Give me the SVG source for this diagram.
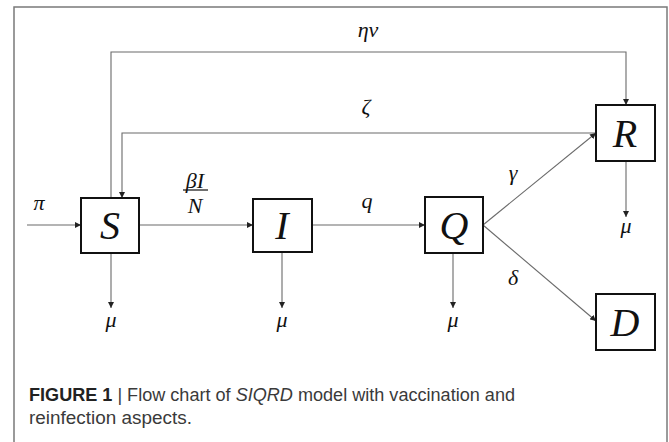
<svg xmlns="http://www.w3.org/2000/svg" width="669" height="442" viewBox="0 0 669 442">
<style>
.frame{fill:none;stroke:#7a7a7a;stroke-width:1.5}
.box{fill:#fff;stroke:#111;stroke-width:2}
.conn path{fill:none;stroke:#6a6a6a;stroke-width:1.1;marker-end:url(#ah)}
.big{font-family:"Liberation Serif",serif;font-style:italic;font-size:40px;fill:#111;text-anchor:middle}
.lbl{font-family:"Liberation Serif",serif;font-style:italic;font-size:22px;fill:#111;text-anchor:middle}
.cap{font-family:"Liberation Sans",Arial,sans-serif;font-size:17.5px;fill:#3a3a3a}
</style>
<defs>
<marker id="ah" viewBox="0 0 10 10" refX="10" refY="5" markerWidth="6" markerHeight="6" markerUnits="userSpaceOnUse" orient="auto">
<path d="M0,0 L10,5 L0,10 z" fill="#222"/>
</marker>
</defs>
<rect class="frame" x="14" y="7" width="653" height="445"/>
<g id="connectors" class="conn">
<path d="M111,198 V52 H626 V105"/>
<path d="M596,133 H122 V198"/>
<path d="M27,225 H81"/>
<path d="M139,225 H253"/>
<path d="M312,225 H425"/>
<path d="M483,225 L596,133"/>
<path d="M483,225 L596,321"/>
<path d="M111,253 V308"/>
<path d="M282,252 V308"/>
<path d="M453,253 V308"/>
<path d="M626,161 V217"/>
</g>
<g id="labels">
<text class="lbl" x="368" y="37">ην</text>
<text class="lbl" x="366" y="114">ζ</text>
<text class="lbl" x="39" y="210">π</text>
<text class="lbl" x="195" y="188">βI</text>
<line x1="183" y1="190" x2="208" y2="190" stroke="#111" stroke-width="1.2"/>
<text class="lbl" x="195" y="213">N</text>
<text class="lbl" x="367" y="208">q</text>
<text class="lbl" x="513" y="180">γ</text>
<text class="lbl" x="513" y="285">δ</text>
<text class="lbl" x="111" y="327">μ</text>
<text class="lbl" x="282" y="327">μ</text>
<text class="lbl" x="453" y="327">μ</text>
<text class="lbl" x="626" y="233">μ</text>
</g>
<g id="node-S"><rect class="box" x="81" y="198" width="58" height="55"/><text class="big" x="110" y="239">S</text></g>
<g id="node-I"><rect class="box" x="253" y="199" width="59" height="53"/><text class="big" x="282" y="239">I</text></g>
<g id="node-Q"><rect class="box" x="425" y="197" width="58" height="56"/><text class="big" x="454" y="239">Q</text></g>
<g id="node-R"><rect class="box" x="596" y="105" width="59" height="56"/><text class="big" x="625" y="147">R</text></g>
<g id="node-D"><rect class="box" x="596" y="294" width="59" height="56"/><text class="big" x="625" y="336">D</text></g>
<g id="caption">
<text class="cap" x="29" y="401" textLength="486" lengthAdjust="spacingAndGlyphs"><tspan font-weight="bold" fill="#222">FIGURE 1</tspan> | Flow chart of <tspan font-style="italic">SIQRD</tspan> model with vaccination and</text>
<text class="cap" x="29" y="424" textLength="163" lengthAdjust="spacingAndGlyphs">reinfection aspects.</text>
</g>
</svg>
